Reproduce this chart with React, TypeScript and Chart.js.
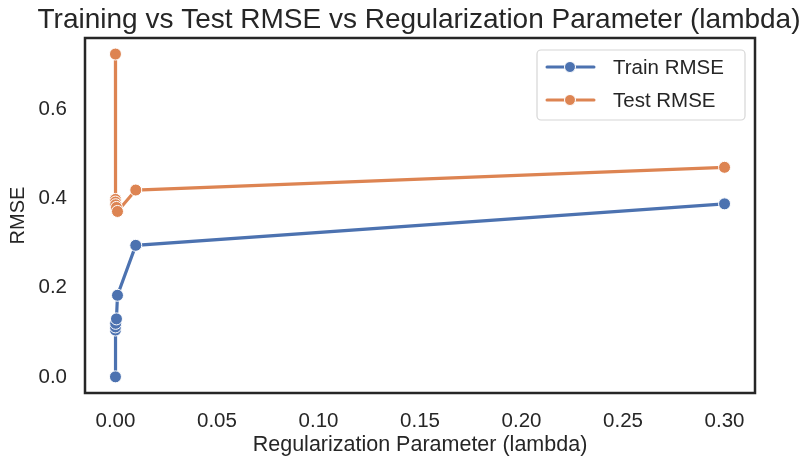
import { useEffect, useRef } from 'react';
import { Chart, registerables } from 'chart.js';

Chart.register(...registerables);

const lambdas = [0, 0.000001, 0.00001, 0.0001, 0.0005, 0.001, 0.01, 0.3];
const trainRmse = [0.0, 0.105, 0.112, 0.12, 0.13, 0.183, 0.295, 0.388];
const testRmse = [0.724, 0.398, 0.392, 0.386, 0.38, 0.371, 0.419, 0.47];
const xTicks = [0, 0.05, 0.1, 0.15, 0.2, 0.25, 0.3];
const yTicks = [0, 0.2, 0.4, 0.6];
const seriesLabels = ['Train RMSE', 'Test RMSE'];
const seriesColors = ['#4C72B0', '#DD8452'];
const titleText = 'Training vs Test RMSE vs Regularization Parameter (lambda)';
const xLabel = 'Regularization Parameter (lambda)';
const yLabel = 'RMSE';

const INK = '#262626';
const FONT = "'Liberation Sans', Arial, sans-serif";

const decor = {
  id: 'decor',
  afterDraw(chart: any) {
    const { ctx, chartArea: a } = chart;
    ctx.save();
    // frame
    ctx.strokeStyle = INK;
    ctx.lineWidth = 2.5;
    ctx.strokeRect(a.left, a.top, a.right - a.left, a.bottom - a.top);
    // title
    ctx.fillStyle = INK;
    ctx.textAlign = 'center';
    ctx.textBaseline = 'middle';
    ctx.font = `28px ${FONT}`;
    ctx.fillText(titleText, 419, 20);
    // axis titles
    ctx.font = `21.5px ${FONT}`;
    ctx.fillText(xLabel, (a.left + a.right) / 2, 445);
    ctx.font = `20px ${FONT}`;
    ctx.save();
    ctx.translate(18, (a.top + a.bottom) / 2);
    ctx.rotate(-Math.PI / 2);
    ctx.fillText(yLabel, 0, 0);
    ctx.restore();
    // legend
    const bw = 208, bh = 70;
    const bx = a.right - 10 - bw, by = a.top + 12;
    ctx.beginPath();
    if (ctx.roundRect) ctx.roundRect(bx, by, bw, bh, 4);
    else ctx.rect(bx, by, bw, bh);
    ctx.fillStyle = 'rgba(255,255,255,0.85)';
    ctx.fill();
    ctx.strokeStyle = '#d6d6d6';
    ctx.lineWidth = 1.2;
    ctx.stroke();
    chart.data.datasets.forEach((ds: any, i: number) => {
      const cy = by + 17 + i * 33;
      ctx.strokeStyle = ds.borderColor;
      ctx.lineWidth = 3;
      ctx.lineCap = 'round';
      ctx.beginPath();
      ctx.moveTo(bx + 10, cy);
      ctx.lineTo(bx + 57, cy);
      ctx.stroke();
      ctx.beginPath();
      ctx.arc(bx + 33, cy, 5.5, 0, Math.PI * 2);
      ctx.fillStyle = ds.borderColor;
      ctx.fill();
      ctx.strokeStyle = '#fff';
      ctx.lineWidth = 1;
      ctx.stroke();
      ctx.fillStyle = INK;
      ctx.textAlign = 'left';
      ctx.textBaseline = 'middle';
      ctx.font = `20.5px ${FONT}`;
      ctx.fillText(ds.label, bx + 76, cy + 1);
    });
    ctx.restore();
  },
};

export default function App() {
  const ref = useRef<HTMLCanvasElement | null>(null);
  useEffect(() => {
    document.body.style.margin = '0';
    if (!ref.current) return;
    const series = [trainRmse, testRmse];
    const chart = new Chart(ref.current, {
      type: 'line',
      data: {
        datasets: series.map((vals, i) => ({
          label: seriesLabels[i],
          data: lambdas.map((x, j) => ({ x, y: vals[j] })),
          borderColor: seriesColors[i],
          backgroundColor: seriesColors[i],
          pointBackgroundColor: seriesColors[i],
          pointBorderColor: '#ffffff',
          pointBorderWidth: 1,
          pointRadius: 6,
          borderWidth: 3.2,
          tension: 0,
          clip: false as any,
        })),
      },
      options: {
        animation: false,
        responsive: true,
        maintainAspectRatio: false,
        layout: { padding: { top: 38, right: 53, left: 0, bottom: 0 } },
        plugins: { legend: { display: false }, title: { display: false }, tooltip: { enabled: false } },
        scales: {
          x: {
            type: 'linear',
            min: -0.015,
            max: 0.315,
            grid: { display: false, drawTicks: false },
            border: { display: false },
            afterBuildTicks: (s: any) => { s.ticks = xTicks.map((v) => ({ value: v })); },
            afterFit: (s: any) => { s.height = 73; },
            ticks: {
              padding: 16,
              color: INK,
              font: { family: FONT, size: 20.5 },
              maxRotation: 0,
              callback: (v: any) => Number(v).toFixed(2),
            },
          },
          y: {
            type: 'linear',
            min: -0.0362,
            max: 0.76,
            grid: { display: false, drawTicks: false },
            border: { display: false },
            afterBuildTicks: (s: any) => { s.ticks = yTicks.map((v) => ({ value: v })); },
            afterFit: (s: any) => { s.width = 85; },
            ticks: {
              padding: 18,
              color: INK,
              font: { family: FONT, size: 20.5 },
              callback: (v: any) => Number(v).toFixed(1),
            },
          },
        },
      },
      plugins: [decor],
    });
    return () => chart.destroy();
  }, []);
  return (
    <div style={{ width: 808, height: 466, position: 'relative' }}>
      <canvas ref={ref} />
    </div>
  );
}
